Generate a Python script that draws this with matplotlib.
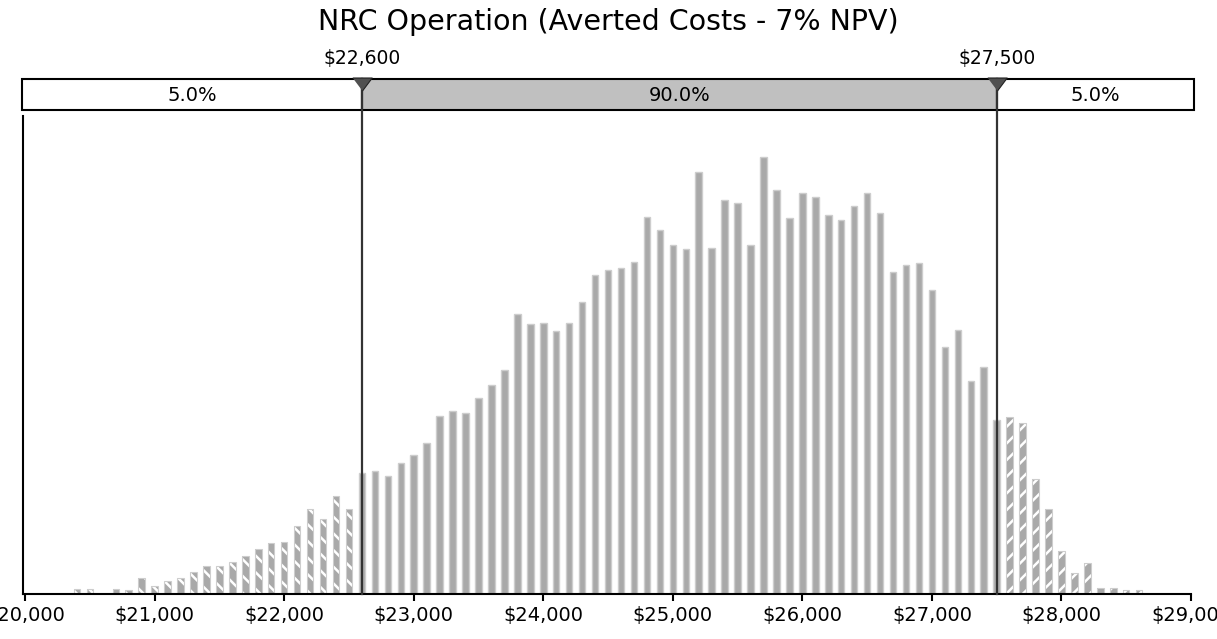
import matplotlib
matplotlib.use("Agg")
import matplotlib.pyplot as plt
from matplotlib.patches import Rectangle

# histogram bins ($100 wide) and bar heights (relative units)
bins = list(range(20400, 28700, 100))
freq = [5, 5, 0, 5, 4, 16, 8, 13, 16, 22,          # 20,400 - 21,300
        28, 28, 32, 38, 45, 51, 52, 68, 85, 75,     # 21,400 - 22,300
        98, 85, 121, 123, 118, 131, 139, 151, 178, 183,   # 22,400 - 23,300
        181, 196, 209, 224, 280, 270, 271, 263, 271, 292,  # 23,400 - 24,300
        319, 324, 326, 332, 377, 364, 349, 345, 422, 346,  # 24,400 - 25,300
        394, 391, 349, 437, 404, 376, 401, 397, 379, 374,  # 25,400 - 26,300
        388, 401, 381, 322, 329, 331, 304, 247, 264, 213,  # 26,400 - 27,300
        227, 174, 177, 171, 115, 85, 43, 21, 31, 6,        # 27,400 - 28,300
        6, 4, 4]                                           # 28,400 - 28,600

lo_val, hi_val = 22600, 27500
shares = ["5.0%", "90.0%", "5.0%"]
title = "NRC Operation (Averted Costs - 7% NPV)"
xticks = list(range(20000, 29001, 1000))

plt.rcParams.update({"font.family": ["DejaVu Sans"], "hatch.linewidth": 1.8})
W, H = 1217, 639
fig = plt.figure(figsize=(W / 100, H / 100), dpi=100)
ax = fig.add_axes([22.5 / W, 45 / H, (1191 - 22.5) / W, 478 / H])

BAR = "#a9a9a9"
EDGE = "#cdcdcd"
mid = [(b, f) for b, f in zip(bins, freq) if lo_val <= b <= hi_val]
left = [(b, f) for b, f in zip(bins, freq) if b < lo_val]
right = [(b, f) for b, f in zip(bins, freq) if b > hi_val]

ax.bar([b for b, _ in mid], [f for _, f in mid], width=50, color=BAR,
       edgecolor=EDGE, linewidth=1.0, zorder=2)
for part, hatch in ((left, "\\\\"), (right, "//")):
    xs = [b for b, _ in part]
    hs = [f for _, f in part]
    ax.bar(xs, hs, width=50, color=BAR, edgecolor="white", hatch=hatch,
           linewidth=0, zorder=2)
    ax.bar(xs, hs, width=50, fill=False, edgecolor=EDGE, linewidth=0.8, zorder=2)

ax.set_xlim(19980, 29000)
ax.set_ylim(0, 478)
ax.set_yticks([])
for s in ("top", "right"):
    ax.spines[s].set_visible(False)
for s in ("left", "bottom"):
    ax.spines[s].set_linewidth(1.5)
    ax.spines[s].set_color("black")
ax.set_xticks(xticks)
ax.set_xticklabels([f"${v:,}" for v in xticks])
ax.tick_params(axis="x", direction="out", length=5, width=1.5, labelsize=14, pad=4)

# percentile band box above the plot
tr = ax.get_xaxis_transform()
y0, y1 = 1.0126, 1.0774
xl, xr = 19976, 29023
edges = [xl, lo_val, hi_val, xr]
fills = ["white", "#c0c0c0", "white"]
for i in range(3):
    ax.add_patch(Rectangle((edges[i], y0), edges[i + 1] - edges[i], y1 - y0,
                           transform=tr, clip_on=False, facecolor=fills[i],
                           edgecolor="black", linewidth=1.5, zorder=4))
    ax.text((edges[i] + edges[i + 1]) / 2, (y0 + y1) / 2 - 0.002, shares[i],
            transform=tr, ha="center", va="center", fontsize=14, zorder=5)

for q in (lo_val, hi_val):
    ax.plot([q, q], [0, y1], transform=tr, clip_on=False, color="#333333",
            lw=1.6, zorder=6)
    ax.plot([q], [1.0659], transform=tr, clip_on=False, linestyle="none",
            marker=[(-1.5, 1), (1.5, 1), (0, -1)], markersize=14,
            markerfacecolor="#505050", markeredgecolor="#222222",
            markeredgewidth=0.8, zorder=7)
    ax.text(q, 1.1213, f"${q:,}", transform=tr, ha="center", va="center",
            fontsize=13.5)

fig.text(0.5, 1 - 22.5 / H, title, ha="center", va="center", fontsize=20.5)

fig.savefig("out.png", dpi=100)
